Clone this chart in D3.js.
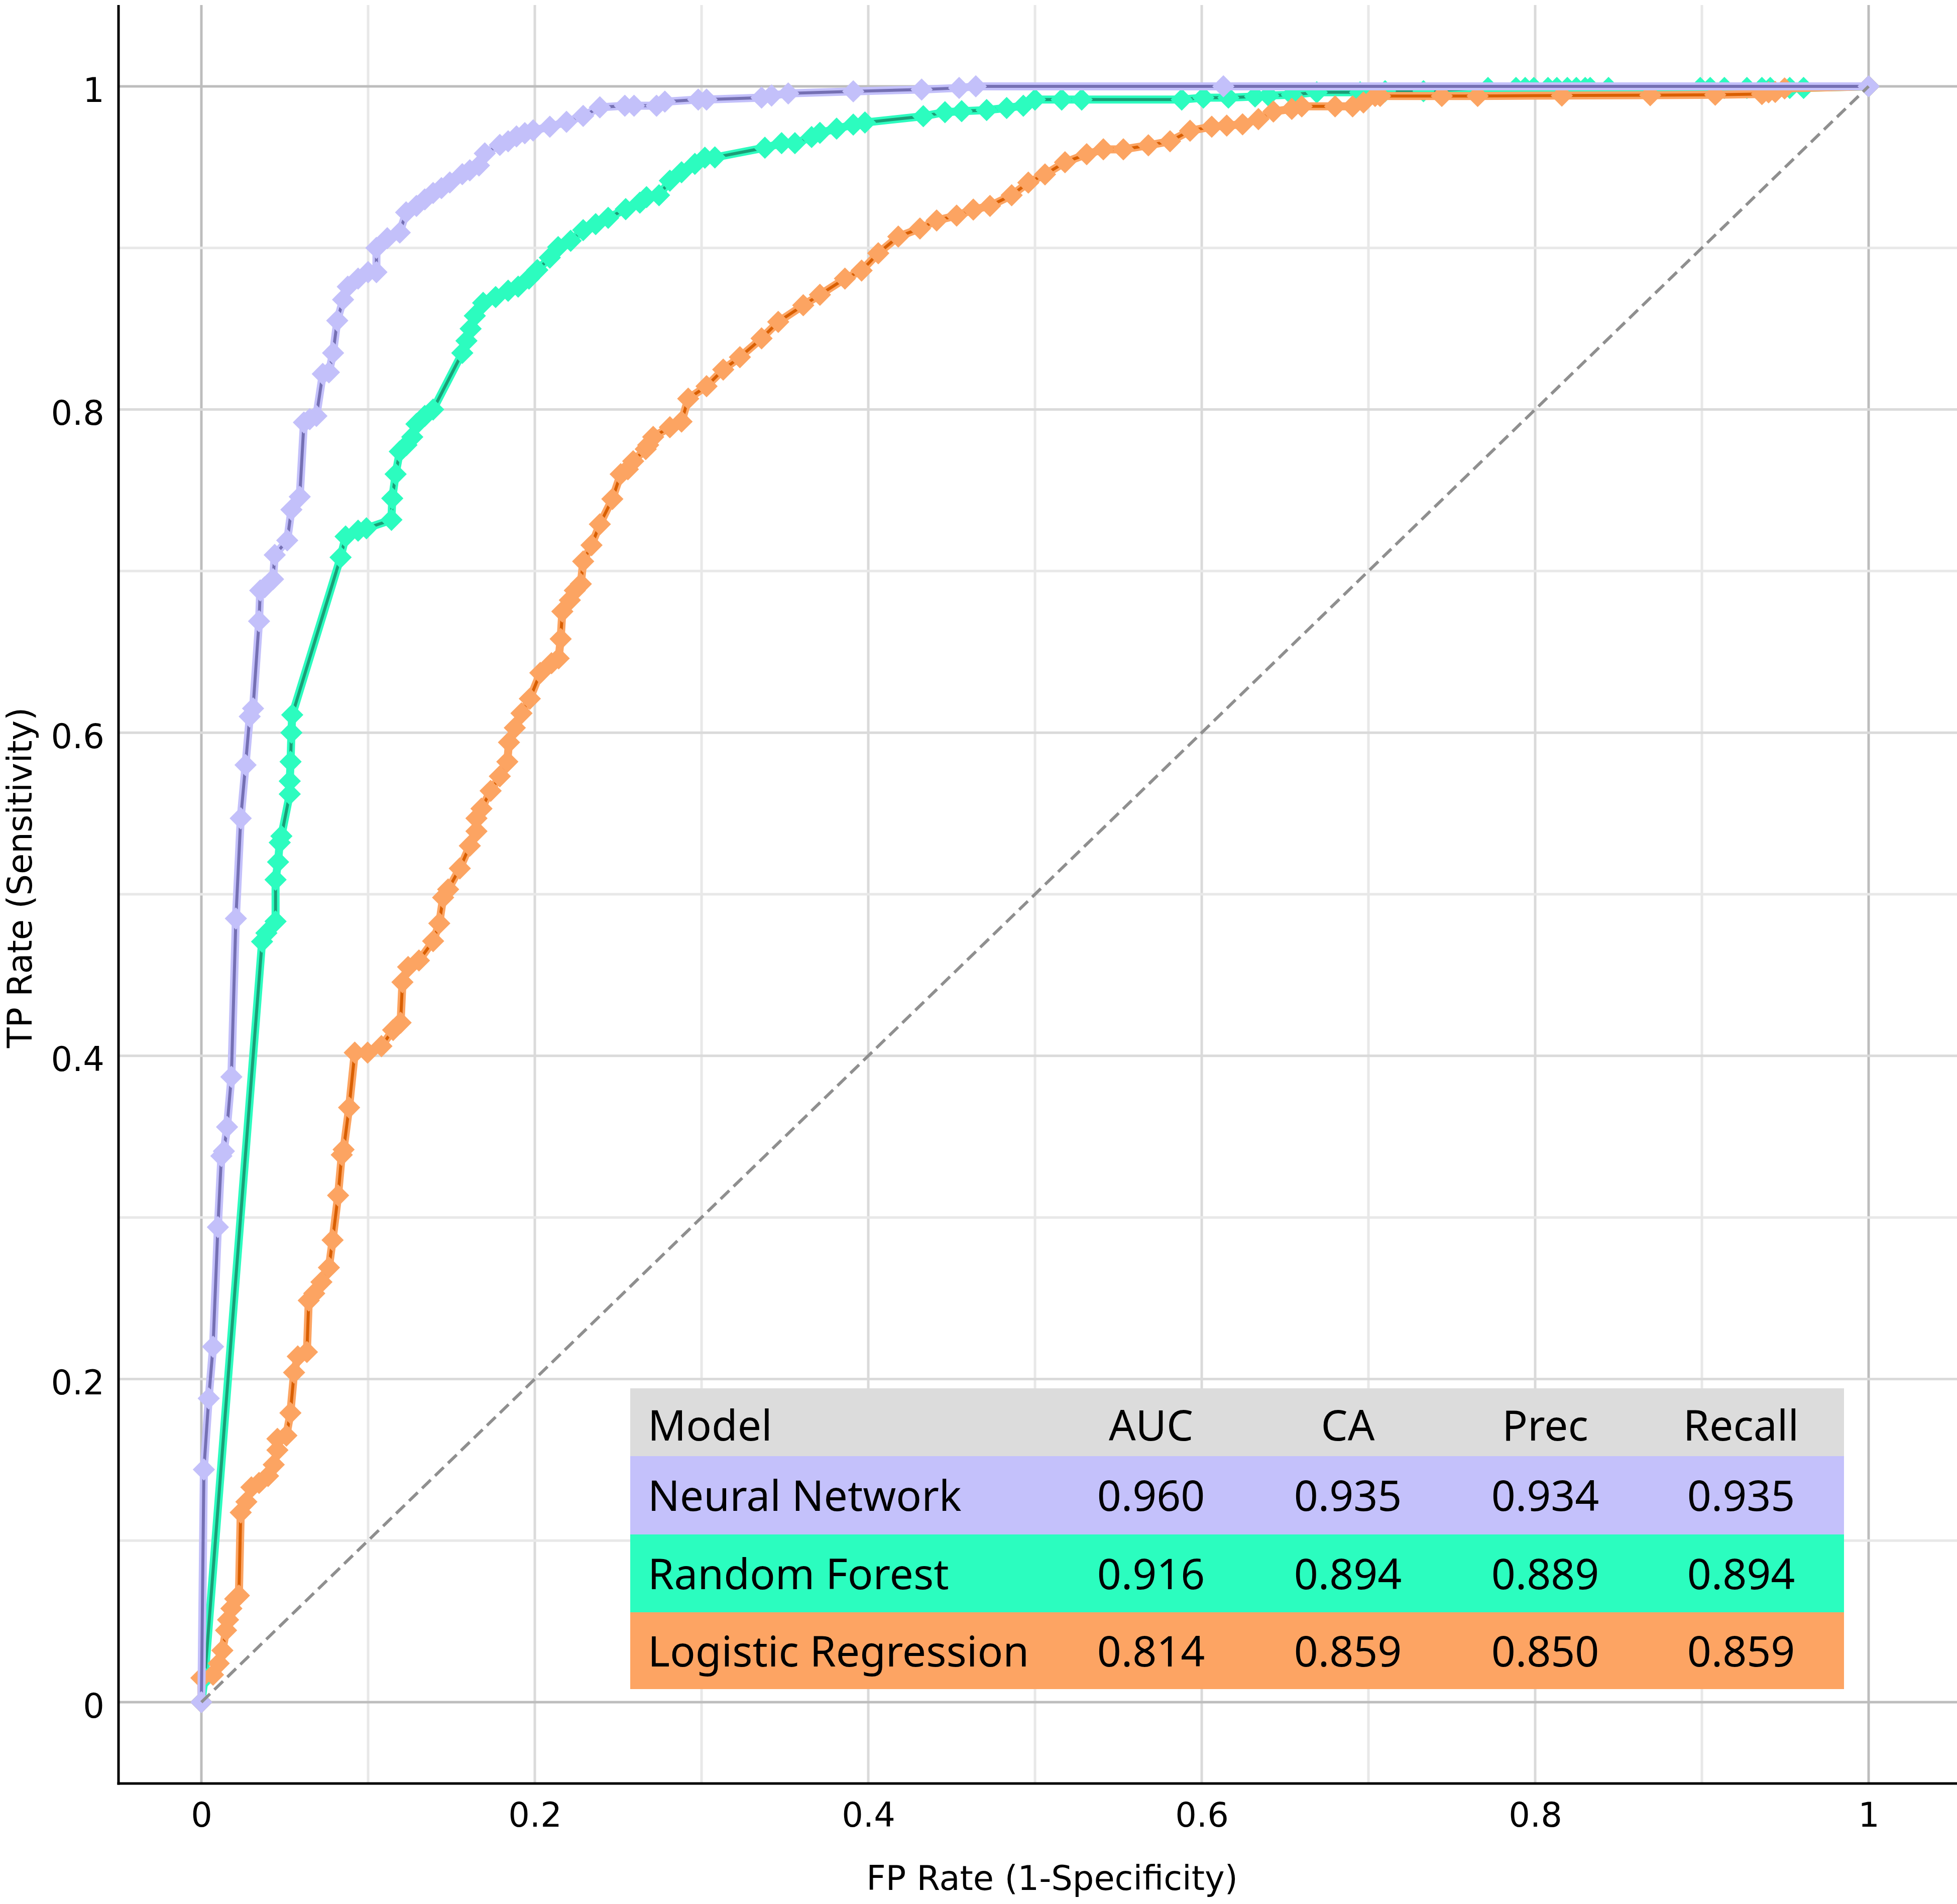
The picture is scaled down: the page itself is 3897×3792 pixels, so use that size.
<!DOCTYPE html>
<html lang="en">
<head>
<meta charset="utf-8">
<script src="https://d3js.org/d3.v7.min.js"></script>
<style>
  body { margin: 0; background: #fff; }
  svg { display: block; }
</style>
</head>
<body>
<script>

// ROC points [FP rate, TP rate]
const nnPoints = [
  [0, 0], [0.0015, 0.144], [0.0044, 0.188], [0.007, 0.220], [0.0099, 0.294],
  [0.012, 0.338], [0.0135, 0.341], [0.0154, 0.356], [0.018, 0.387], [0.0207, 0.485],
  [0.0236, 0.547], [0.0265, 0.580], [0.029, 0.610], [0.031, 0.615], [0.0346, 0.669],
  [0.0353, 0.688], [0.038, 0.690], [0.043, 0.695], [0.044, 0.710], [0.0515, 0.719],
  [0.054, 0.738], [0.059, 0.746], [0.0615, 0.792], [0.065, 0.794], [0.069, 0.796],
  [0.0728, 0.822], [0.0765, 0.823], [0.079, 0.835], [0.0815, 0.855], [0.085, 0.868],
  [0.0878, 0.876], [0.094, 0.881], [0.1, 0.885], [0.105, 0.885], [0.105, 0.900],
  [0.1115, 0.906], [0.119, 0.9095], [0.1228, 0.922], [0.129, 0.926], [0.134, 0.930],
  [0.139, 0.934], [0.144, 0.937], [0.149, 0.9405], [0.1565, 0.9456], [0.161, 0.948],
  [0.1665, 0.951], [0.170, 0.9585], [0.179, 0.9637], [0.184, 0.966], [0.189, 0.969],
  [0.194, 0.971], [0.199, 0.9727], [0.209, 0.975], [0.219, 0.978], [0.229, 0.9817],
  [0.239, 0.987], [0.254, 0.988], [0.2595, 0.988], [0.273, 0.988], [0.278, 0.9905],
  [0.298, 0.9918], [0.303, 0.9918], [0.336, 0.993], [0.342, 0.9943], [0.352, 0.9956],
  [0.391, 0.9969], [0.432, 0.998], [0.4545, 0.999], [0.4645, 1], [0.613, 1], [1, 1]
];

const rfPoints = [
  [0, 0], [0.002, 0.015], [0.0364, 0.4707], [0.039, 0.476], [0.0445, 0.4832],
  [0.0445, 0.509], [0.046, 0.520], [0.047, 0.532], [0.048, 0.536], [0.053, 0.562],
  [0.053, 0.570], [0.0535, 0.582], [0.054, 0.600], [0.0545, 0.611], [0.0835, 0.7085],
  [0.0865, 0.7214], [0.094, 0.725], [0.099, 0.7265], [0.114, 0.7317], [0.1145, 0.745],
  [0.1165, 0.760], [0.119, 0.774], [0.123, 0.778], [0.1265, 0.783], [0.129, 0.791],
  [0.134, 0.796], [0.139, 0.800], [0.1565, 0.835], [0.159, 0.8425], [0.1615, 0.850],
  [0.164, 0.858], [0.169, 0.866], [0.1765, 0.8696], [0.184, 0.8735], [0.190, 0.876],
  [0.1965, 0.881], [0.2015, 0.8863], [0.209, 0.894], [0.214, 0.9005], [0.2215, 0.9044],
  [0.229, 0.911], [0.2365, 0.9147], [0.244, 0.9186], [0.2545, 0.924], [0.263, 0.928],
  [0.267, 0.9314], [0.2745, 0.9326], [0.281, 0.9416], [0.288, 0.9468], [0.296, 0.952],
  [0.302, 0.9558], [0.308, 0.956], [0.338, 0.962], [0.348, 0.9648], [0.356, 0.9648],
  [0.366, 0.9686], [0.371, 0.9712], [0.381, 0.9738], [0.391, 0.9763], [0.398, 0.9776],
  [0.433, 0.9815], [0.446, 0.984], [0.456, 0.9846], [0.471, 0.9853], [0.483, 0.9866],
  [0.493, 0.988], [0.5, 0.9918], [0.516, 0.9918], [0.528, 0.9918], [0.588, 0.9918],
  [0.601, 0.993], [0.616, 0.993], [0.632, 0.9937], [0.640, 0.9943], [0.654, 0.9948],
  [0.669, 0.9963], [0.695, 0.9963], [0.710, 0.997], [0.733, 0.997], [0.7717, 0.999],
  [0.7885, 0.999], [0.794, 0.999], [0.7992, 0.999], [0.8077, 0.999], [0.813, 0.999],
  [0.8193, 0.999], [0.8247, 0.999], [0.830, 0.999], [0.833, 0.999], [0.844, 0.999],
  [0.899, 0.999], [0.905, 0.999], [0.9135, 0.999], [0.927, 0.999], [0.936, 0.999],
  [0.941, 0.999], [0.9527, 0.999], [0.961, 0.999], [1, 1]
];

const lrPoints = [
  [0, 0], [0, 0.015], [0.007, 0.017], [0.0104, 0.024], [0.0126, 0.032],
  [0.0148, 0.0445], [0.016, 0.051], [0.018, 0.058], [0.0203, 0.064], [0.0225, 0.066],
  [0.0236, 0.1174], [0.027, 0.124], [0.030, 0.133], [0.0346, 0.1357], [0.040, 0.140],
  [0.0434, 0.147], [0.0456, 0.156], [0.0456, 0.163], [0.051, 0.165], [0.0534, 0.179],
  [0.0556, 0.204], [0.0578, 0.214], [0.0633, 0.2167], [0.0644, 0.2486], [0.0677, 0.253],
  [0.072, 0.260], [0.0765, 0.269], [0.0787, 0.286], [0.082, 0.3136], [0.0842, 0.3387],
  [0.0853, 0.342], [0.0886, 0.368], [0.092, 0.402], [0.0997, 0.402], [0.108, 0.406],
  [0.115, 0.416], [0.1195, 0.4205], [0.1206, 0.4456], [0.124, 0.455], [0.1305, 0.459],
  [0.139, 0.471], [0.1427, 0.482], [0.145, 0.498], [0.148, 0.503], [0.155, 0.516],
  [0.161, 0.530], [0.165, 0.539], [0.165, 0.547], [0.168, 0.553], [0.1735, 0.564],
  [0.179, 0.573], [0.1835, 0.582], [0.1845, 0.594], [0.188, 0.603], [0.192, 0.612],
  [0.197, 0.621], [0.2033, 0.637], [0.210, 0.643], [0.2143, 0.646], [0.2155, 0.658],
  [0.2165, 0.675], [0.221, 0.682], [0.224, 0.688], [0.2276, 0.692], [0.229, 0.706],
  [0.234, 0.716], [0.239, 0.729], [0.2465, 0.7446], [0.2515, 0.760], [0.2558, 0.763],
  [0.259, 0.768], [0.2665, 0.7755], [0.268, 0.778], [0.271, 0.783], [0.281, 0.789],
  [0.288, 0.7925], [0.292, 0.8067], [0.303, 0.8144], [0.313, 0.8247], [0.323, 0.8324],
  [0.336, 0.844], [0.346, 0.8542], [0.361, 0.8645], [0.371, 0.871], [0.386, 0.881],
  [0.396, 0.886], [0.406, 0.8967], [0.418, 0.907], [0.431, 0.912], [0.441, 0.917],
  [0.453, 0.920], [0.463, 0.9237], [0.473, 0.926], [0.486, 0.9326], [0.496, 0.9404],
  [0.506, 0.9455], [0.518, 0.953], [0.531, 0.958], [0.541, 0.961], [0.553, 0.961],
  [0.568, 0.9635], [0.581, 0.966], [0.593, 0.9725], [0.606, 0.975], [0.615, 0.9757],
  [0.6245, 0.9765], [0.634, 0.9797], [0.643, 0.9844], [0.654, 0.986], [0.660, 0.9876],
  [0.680, 0.9876], [0.6905, 0.9876], [0.697, 0.990], [0.704, 0.994], [0.707, 0.994],
  [0.744, 0.994], [0.7655, 0.994], [0.816, 0.9943], [0.869, 0.9945], [0.908, 0.9948],
  [0.936, 0.9952], [0.940, 0.9963], [0.944, 0.9965], [0.9496, 0.9987], [1, 1]
];

// table contents
const models = ["Neural Network", "Random Forest", "Logistic Regression"];
const metricNames = ["AUC", "CA", "Prec", "Recall"];
const nnScores = [0.960, 0.935, 0.934, 0.935];
const rfScores = [0.916, 0.894, 0.889, 0.894];
const lrScores = [0.814, 0.859, 0.850, 0.859];

const xTicks = [0, 0.2, 0.4, 0.6, 0.8, 1];
const yTicks = [0, 0.2, 0.4, 0.6, 0.8, 1];
const gridValues = [0, 0.1, 0.2, 0.3, 0.4, 0.5, 0.6, 0.7, 0.8, 0.9, 1];

const width = 3897;
const height = 3792;

const x = d3.scaleLinear().domain([-0.05, 1.05]).range([235, 3887]);
const y = d3.scaleLinear().domain([-0.05, 1.05]).range([3551, 11]);

const svg = d3.select("body").append("svg")
  .attr("width", width)
  .attr("height", height);

const axisLeftX = 236;
const axisBottomY = 3552;

// grid
function gridColor(v) {
  if (v === 0 || v === 1) return "#bdbdbd";
  if (Math.round(v * 10) % 2 === 0) return "#dadada";
  return "#e8e8e8";
}

svg.append("g").selectAll("line")
  .data(gridValues)
  .join("line")
  .attr("x1", d => x(d)).attr("x2", d => x(d))
  .attr("y1", 10).attr("y2", axisBottomY)
  .attr("stroke", d => gridColor(d))
  .attr("stroke-width", 5);

svg.append("g").selectAll("line")
  .data(gridValues)
  .join("line")
  .attr("y1", d => y(d)).attr("y2", d => y(d))
  .attr("x1", axisLeftX).attr("x2", width)
  .attr("stroke", d => gridColor(d))
  .attr("stroke-width", 5);

// axes
const xAxis = svg.append("g")
  .attr("transform", "translate(0," + axisBottomY + ")")
  .call(d3.axisBottom(x).tickValues(xTicks).tickSize(0).tickPadding(38)
    .tickFormat(d3.format("~g")));
xAxis.select(".domain").remove();
xAxis.selectAll("text")
  .attr("font-family", "DejaVu Sans")
  .attr("font-size", 67)
  .attr("fill", "#000");

const yAxis = svg.append("g")
  .attr("transform", "translate(" + axisLeftX + ",0)")
  .call(d3.axisLeft(y).tickValues(yTicks).tickSize(0).tickPadding(28)
    .tickFormat(d3.format("~g")));
yAxis.select(".domain").remove();
yAxis.selectAll("text")
  .attr("font-family", "DejaVu Sans")
  .attr("font-size", 67)
  .attr("fill", "#000")
  .attr("dy", "0.45em");

svg.append("line")
  .attr("x1", axisLeftX).attr("x2", axisLeftX)
  .attr("y1", 10).attr("y2", axisBottomY + 2.5)
  .attr("stroke", "#000").attr("stroke-width", 5);
svg.append("line")
  .attr("x1", axisLeftX - 2.5).attr("x2", width)
  .attr("y1", axisBottomY).attr("y2", axisBottomY)
  .attr("stroke", "#000").attr("stroke-width", 5);

// axis titles
svg.append("text")
  .attr("x", 2095).attr("y", 3764)
  .attr("text-anchor", "middle")
  .attr("font-family", "DejaVu Sans")
  .attr("font-size", 67)
  .text("FP Rate (1-Specificity)");

svg.append("text")
  .attr("transform", "translate(63,1748) rotate(-90)")
  .attr("text-anchor", "middle")
  .attr("font-family", "DejaVu Sans")
  .attr("font-size", 67)
  .text("TP Rate (Sensitivity)");

// curves
const line = d3.line().x(d => x(d[0])).y(d => y(d[1]));
const diamond = d3.symbol().type(d3.symbolDiamond2).size(1250);

const curves = [
  {points: rfPoints, light: "#2cfcbf", dark: "#1b9e77"},
  {points: lrPoints, light: "#fca462", dark: "#d95f02"},
  {points: nnPoints, light: "#c3c0fa", dark: "#7570b3"}
];

curves.forEach(c => {
  const g = svg.append("g");
  g.append("path")
    .datum(c.points)
    .attr("fill", "none")
    .attr("stroke", c.light)
    .attr("stroke-width", 16)
    .attr("stroke-linejoin", "round")
    .attr("d", line);
  g.append("path")
    .datum(c.points)
    .attr("fill", "none")
    .attr("stroke", c.dark)
    .attr("stroke-width", 6)
    .attr("stroke-linejoin", "round")
    .attr("d", line);
  g.selectAll("path.pt")
    .data(c.points)
    .join("path")
    .attr("class", "pt")
    .attr("transform", d => "translate(" + x(d[0]) + "," + y(d[1]) + ")")
    .attr("d", diamond)
    .attr("fill", c.light);
});

// chance diagonal
svg.append("line")
  .attr("x1", x(0)).attr("y1", y(0))
  .attr("x2", x(1)).attr("y2", y(1))
  .attr("stroke", "#8f8f8f")
  .attr("stroke-width", 6)
  .attr("stroke-dasharray", "24,12");

// scores table
const tableLeft = 1255;
const tableRight = 3672;
const rowEdges = [2765, 2900, 3056, 3211, 3364];
const rowFill = ["#dcdcdc", "#c4c1fb", "#2bfdbf", "#fda463"];
const colCenters = [2292, 2684, 3077, 3467];
const fmt = d3.format(".3f");

const rows = [
  {name: "Model", cells: metricNames},
  {name: models[0], cells: nnScores.map(fmt)},
  {name: models[1], cells: rfScores.map(fmt)},
  {name: models[2], cells: lrScores.map(fmt)}
];

const table = svg.append("g");
rows.forEach((r, i) => {
  const top = rowEdges[i];
  const bottom = rowEdges[i + 1];
  const base = (top + bottom) / 2 + (i === 0 ? 36 : 31);
  table.append("rect")
    .attr("x", tableLeft).attr("y", top)
    .attr("width", tableRight - tableLeft)
    .attr("height", bottom - top)
    .attr("fill", rowFill[i]);
  table.append("text")
    .attr("x", 1290).attr("y", base)
    .attr("font-family", "Noto Sans")
    .attr("font-size", 84)
    .attr("fill", "#000")
    .text(r.name);
  r.cells.forEach((t, j) => {
    table.append("text")
      .attr("x", colCenters[j]).attr("y", base)
      .attr("text-anchor", "middle")
      .attr("font-family", "Noto Sans")
      .attr("font-size", 84)
      .attr("fill", "#000")
      .text(t);
  });
});

</script>
</body>
</html>
